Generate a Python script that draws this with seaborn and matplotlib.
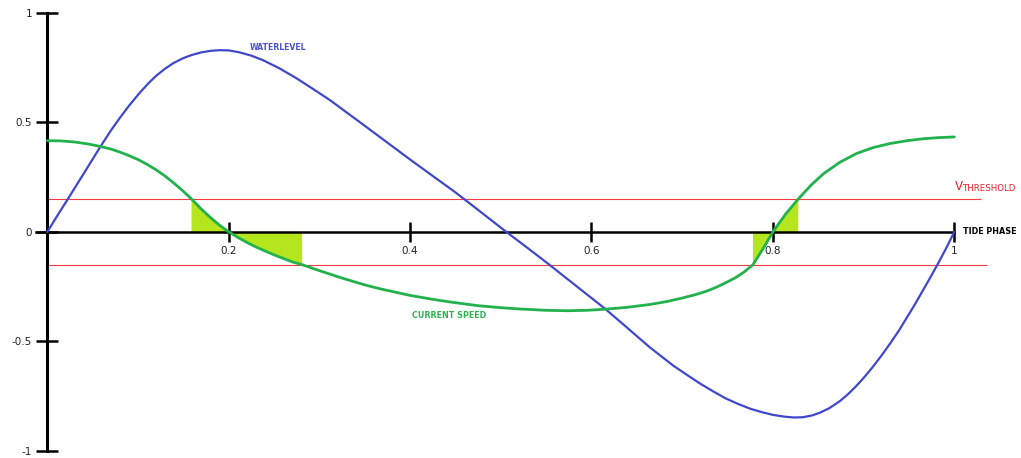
import matplotlib
matplotlib.use("Agg")
import matplotlib.pyplot as plt
import seaborn as sns
import numpy as np
import pandas as pd

# values (tide phase 0..1)
phase_wl = [0, 0.012, 0.023, 0.04, 0.058, 0.07, 0.08, 0.09, 0.102, 0.112,
            0.12, 0.13, 0.139, 0.15, 0.16, 0.17, 0.18, 0.19, 0.2, 0.212,
            0.225, 0.238, 0.256, 0.275, 0.293, 0.312, 0.33, 0.35, 0.375, 0.4,
            0.425, 0.45, 0.475, 0.506, 0.53, 0.552, 0.585, 0.615, 0.64, 0.664,
            0.69, 0.705, 0.72, 0.735, 0.748, 0.762, 0.775, 0.788, 0.8, 0.812,
            0.823, 0.833, 0.843, 0.852, 0.862, 0.874, 0.883, 0.892, 0.901, 0.91,
            0.92, 0.93, 0.939, 0.948, 0.957, 0.965, 0.974, 0.982, 0.991, 1.0]
waterlevel = [0, 0.08, 0.152, 0.265, 0.385, 0.462, 0.52, 0.575, 0.635, 0.68,
              0.712, 0.745, 0.77, 0.793, 0.808, 0.819, 0.826, 0.829, 0.828, 0.819,
              0.804, 0.783, 0.746, 0.70, 0.652, 0.60, 0.545, 0.484, 0.407, 0.33,
              0.255, 0.18, 0.1, 0.0, -0.075, -0.145, -0.253, -0.351, -0.44, -0.526,
              -0.61, -0.652, -0.693, -0.73, -0.76, -0.786, -0.807, -0.823, -0.835, -0.843,
              -0.847, -0.846, -0.838, -0.825, -0.805, -0.772, -0.74, -0.703, -0.662, -0.617,
              -0.563, -0.505, -0.45, -0.389, -0.328, -0.27, -0.205, -0.145, -0.075, 0.0]

phase_cs = [0, 0.015, 0.03, 0.045, 0.058, 0.07, 0.08, 0.09, 0.1, 0.11,
            0.12, 0.13, 0.14, 0.15, 0.159, 0.17, 0.18, 0.19, 0.2, 0.21,
            0.22, 0.23, 0.24, 0.25, 0.26, 0.27, 0.281, 0.3, 0.325, 0.35,
            0.367, 0.4, 0.425, 0.444, 0.475, 0.5, 0.521, 0.55, 0.573, 0.595,
            0.615, 0.64, 0.665, 0.683, 0.7, 0.715, 0.728, 0.738, 0.748, 0.758,
            0.768, 0.778, 0.789, 0.8, 0.814, 0.828, 0.842, 0.856, 0.874, 0.892,
            0.91, 0.929, 0.948, 0.966, 0.983, 1.0]
current_speed = [0.416, 0.415, 0.41, 0.401, 0.39, 0.378, 0.364, 0.348, 0.33, 0.308,
                 0.283, 0.254, 0.221, 0.185, 0.15, 0.103, 0.065, 0.03, 0.0, -0.025,
                 -0.048, -0.069, -0.087, -0.105, -0.121, -0.137, -0.15, -0.177, -0.211, -0.242,
                 -0.26, -0.29, -0.308, -0.32, -0.337, -0.346, -0.352, -0.358, -0.36, -0.358,
                 -0.353, -0.344, -0.331, -0.318, -0.302, -0.286, -0.269, -0.252, -0.232, -0.211,
                 -0.184, -0.15, -0.078, 0.0, 0.081, 0.15, 0.213, 0.266, 0.318, 0.357,
                 0.384, 0.403, 0.416, 0.425, 0.43, 0.433]

v_threshold = 0.15
x_ticks = [0.2, 0.4, 0.6, 0.8, 1]
x_tick_labels = ["0.2", "0.4", "0.6", "0.8", "1"]
y_ticks = [-1, -0.5, 0, 0.5, 1]
y_tick_labels = ["-1", "-0.5", "0", "0.5", "1"]

BLUE = "#3f48cc"
GREEN = "#22b14c"
RED = "#f53a40"
LIME = "#b5e61d"

sns.set_style("white")
plt.rcParams["font.family"] = ["DejaVu Sans"]

wl = pd.DataFrame({"phase": phase_wl, "level": waterlevel})
cs = pd.DataFrame({"phase": phase_cs, "speed": current_speed})

fig = plt.figure(figsize=(10.21, 4.58), dpi=100)
ax = fig.add_axes([0, 0, 1, 1])

# band where the current is below threshold
speed = np.array(current_speed)
ax.fill_between(cs["phase"], cs["speed"], 0, where=np.abs(speed) <= v_threshold + 1e-9,
                color=LIME, linewidth=0, zorder=1)

# threshold lines
ax.hlines(v_threshold, 0, 1.029, color=RED, linewidth=0.8, zorder=1.5)
ax.hlines(-v_threshold, 0, 1.036, color=RED, linewidth=0.8, zorder=1.5)

sns.lineplot(data=wl, x="phase", y="level", ax=ax, color=BLUE, linewidth=1.6,
             sort=False, estimator=None, zorder=3)
sns.lineplot(data=cs, x="phase", y="speed", ax=ax, color=GREEN, linewidth=2.0,
             sort=False, estimator=None, zorder=3)

ax.set_xlim(-47.3 / 907, (1021 - 47.3) / 907)
ax.set_ylim((231.85 - 458) / 219.15, 231.85 / 219.15)

# axes through the origin
for side in ["top", "right"]:
    ax.spines[side].set_visible(False)
ax.spines["left"].set_position(("data", 0))
ax.spines["left"].set_bounds(-1, 1)
ax.spines["left"].set_linewidth(2.2)
ax.spines["left"].set_color("black")
ax.spines["bottom"].set_position(("data", 0))
ax.spines["bottom"].set_bounds(-0.012, 1)
ax.spines["bottom"].set_linewidth(1.8)
ax.spines["bottom"].set_color("black")

ax.set_xticks(x_ticks)
ax.set_xticklabels(x_tick_labels)
ax.set_yticks(y_ticks)
ax.set_yticklabels(y_tick_labels)
ax.tick_params(axis="x", bottom=True, direction="inout", length=14.5, width=1.8, pad=3,
               labelsize=7.5, color="black", labelcolor="#222222")
ax.tick_params(axis="y", left=True, direction="inout", length=16, width=1.8, pad=3,
               labelsize=7.5, color="black", labelcolor="#222222")
ax.set_xlabel("")
ax.set_ylabel("")

# annotations
ax.text(0.2235, 0.839, "WATERLEVEL", color="#4a52d0", fontsize=5.6,
        fontweight="bold", va="center", ha="left")
ax.text(0.402, -0.383, "CURRENT SPEED", color="#2db34f", fontsize=5.8,
        fontweight="bold", va="center", ha="left")
ax.text(1.0008, 0.206, "V", color="#ed1c24", fontsize=8.5, va="center", ha="left")
ax.text(1.0095, 0.200, "THRESHOLD", color="#ed1c24", fontsize=6.2,
        va="center", ha="left")
ax.text(1.0096, 0.0, "TIDE PHASE", color="black", fontsize=5.8,
        fontweight="bold", va="center", ha="left")

fig.savefig("out.png", dpi=100)
